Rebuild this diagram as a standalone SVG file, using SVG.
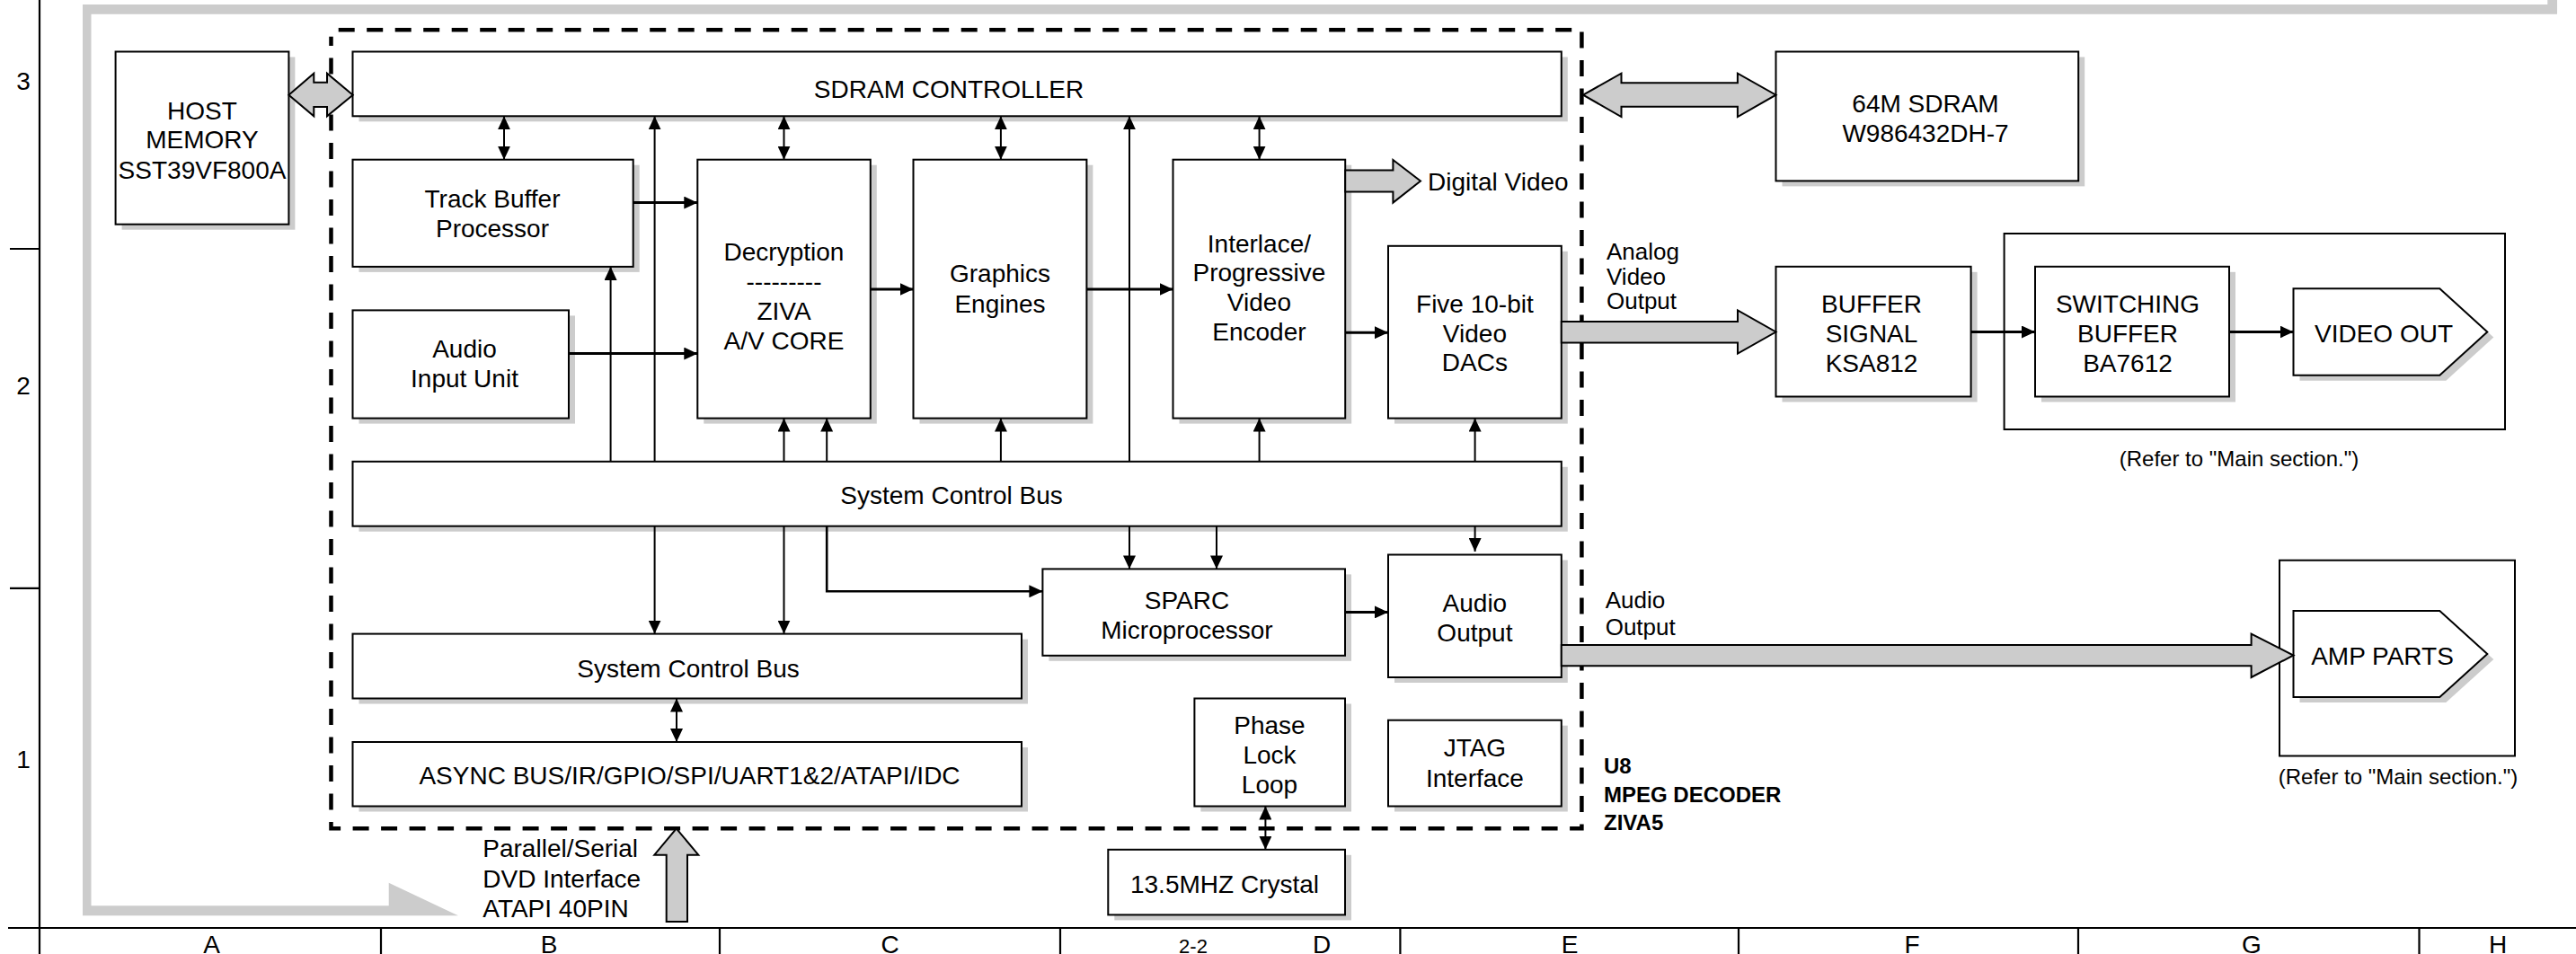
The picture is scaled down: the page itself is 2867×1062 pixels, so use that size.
<svg xmlns="http://www.w3.org/2000/svg" width="2867" height="1062" viewBox="0 0 2867 1062">
<style>
.box{fill:#fff;stroke:#000;stroke-width:2}
.sh{fill:#ccc;stroke:none}
.open{fill:none;stroke:#000;stroke-width:2}
.t{font-family:"Liberation Sans",Arial,sans-serif;font-size:28px;fill:#000}
.c{text-anchor:middle}
.s26{font-size:26px}
.s24{font-size:24px}
.b{font-weight:bold;font-size:24px}
.hollow{fill:#ccc;stroke:#000;stroke-width:2;stroke-linejoin:miter}
.ln{stroke:#000;stroke-width:2;fill:none}
.lnt{stroke:#000;stroke-width:3;fill:none}
.grid{stroke:#000;stroke-width:2.2;fill:none}
.dash{fill:none;stroke:#000;stroke-width:4.5;stroke-dasharray:18 13.5}
</style>
<defs>
<marker id="ah" viewBox="0 0 15 14" markerWidth="15" markerHeight="14" refX="15" refY="7" orient="auto-start-reverse" markerUnits="userSpaceOnUse"><path d="M0,0 L15,7 L0,14 z" fill="#000"/></marker>
</defs>
<rect width="2867" height="1062" fill="#fff"/>

<g id="sheet-border">
<path class="grid" d="M44 0 V1062 M9 1033 H2867 M11 277 H44 M11 654.8 H44 M424 1033 V1062 M801 1033 V1062 M1180 1033 V1062 M1558.4 1033 V1062 M1935 1033 V1062 M2313 1033 V1062 M2692.5 1033 V1062"/>
<text class="t c" x="26" y="99.6">3</text>
<text class="t c" x="26" y="439">2</text>
<text class="t c" x="26" y="854.6">1</text>
<text class="t c" x="235.7" y="1061">A</text>
<text class="t c" x="611" y="1061">B</text>
<text class="t c" x="990.5" y="1061">C</text>
<text class="t c" x="1328" y="1061" style="font-size:22px">2-2</text>
<text class="t c" x="1471" y="1061">D</text>
<text class="t c" x="1747" y="1061">E</text>
<text class="t c" x="2128" y="1061">F</text>
<text class="t c" x="2506" y="1061">G</text>
<text class="t c" x="2780" y="1061">H</text>
</g>

<g id="flow-frame">
<polygon fill="#ccc" points="2835.3,0 2846,0 2846,15.7 101.5,15.7 101.5,1008.3 432.7,1008.3 432.7,982.7 510,1019.3 92,1019.3 92,5 2835.3,5"/>
</g>

<g id="u8-boundary">
<path class="dash" d="M376.7 33.3 H1760.4 V922.3 H368.5 V40.7"/>
<text class="t b" x="1785" y="860.5">U8</text>
<text class="t b" x="1785" y="893.3">MPEG DECODER</text>
<text class="t b" x="1785" y="924.4">ZIVA5</text>
</g>

<g id="host-memory">
<rect class="sh" x="135.6" y="63.5" width="192.8" height="192.2"/>
<rect class="box" x="128.6" y="57.5" width="192.8" height="192.2"/>
<text class="t c" x="225" y="132.6">HOST</text>
<text class="t c" x="225" y="165.3">MEMORY</text>
<text class="t c" x="225" y="199">SST39VF800A</text>
</g>

<g id="sdram-controller">
<rect class="sh" x="399.5" y="63.5" width="1345.3" height="71.8"/>
<rect class="box" x="392.5" y="57.5" width="1345.3" height="71.8"/>
<text class="t c" x="1056" y="108.5">SDRAM CONTROLLER</text>
</g>

<g id="track-buffer">
<rect class="sh" x="399.5" y="183.7" width="312.2" height="119.2"/>
<rect class="box" x="392.5" y="177.7" width="312.2" height="119.2"/>
<text class="t c" x="548" y="230.7">Track Buffer</text>
<text class="t c" x="548" y="263.7">Processor</text>
</g>

<g id="audio-input">
<rect class="sh" x="399.5" y="351.4" width="240.5" height="120.2"/>
<rect class="box" x="392.5" y="345.4" width="240.5" height="120.2"/>
<text class="t c" x="517" y="397.8">Audio</text>
<text class="t c" x="517" y="430.5">Input Unit</text>
</g>

<g id="decryption">
<rect class="sh" x="783.3" y="183.7" width="192.5" height="287.9"/>
<rect class="box" x="776.3" y="177.7" width="192.5" height="287.9"/>
<text class="t c" x="872.5" y="289.5">Decryption</text>
<text class="t c" x="872.5" y="323">---------</text>
<text class="t c" x="872.5" y="356.3">ZIVA</text>
<text class="t c" x="872.5" y="389.4">A/V CORE</text>
</g>

<g id="graphics">
<rect class="sh" x="1023.5" y="183.7" width="192.9" height="287.9"/>
<rect class="box" x="1016.5" y="177.7" width="192.9" height="287.9"/>
<text class="t c" x="1113" y="314.3">Graphics</text>
<text class="t c" x="1113" y="347.6">Engines</text>
</g>

<g id="video-encoder">
<rect class="sh" x="1312.5" y="183.7" width="191.7" height="287.9"/>
<rect class="box" x="1305.5" y="177.7" width="191.7" height="287.9"/>
<text class="t c" x="1401.4" y="280.6">Interlace/</text>
<text class="t c" x="1401.4" y="313.4">Progressive</text>
<text class="t c" x="1401.4" y="346.2">Video</text>
<text class="t c" x="1401.4" y="379">Encoder</text>
</g>

<g id="video-dacs">
<rect class="sh" x="1552" y="279.8" width="192.8" height="191.8"/>
<rect class="box" x="1545" y="273.8" width="192.8" height="191.8"/>
<text class="t c" x="1641.4" y="347.8">Five 10-bit</text>
<text class="t c" x="1641.4" y="380.5">Video</text>
<text class="t c" x="1641.4" y="413.2">DACs</text>
</g>

<g id="system-bus">
<rect class="sh" x="399.5" y="519.8" width="1345.3" height="71.9"/>
<rect class="box" x="392.5" y="513.8" width="1345.3" height="71.9"/>
<text class="t c" x="1059" y="561">System Control Bus</text>
</g>

<g id="system-bus-2">
<rect class="sh" x="399.5" y="711.6" width="744.5" height="71.9"/>
<rect class="box" x="392.5" y="705.6" width="744.5" height="71.9"/>
<text class="t c" x="766" y="753.5">System Control Bus</text>
</g>

<g id="async-bus">
<rect class="sh" x="399.5" y="832" width="744.5" height="71.5"/>
<rect class="box" x="392.5" y="826" width="744.5" height="71.5"/>
<text class="t c" x="767.5" y="872.6">ASYNC BUS/IR/GPIO/SPI/UART1&amp;2/ATAPI/IDC</text>
</g>

<g id="sparc">
<rect class="sh" x="1167.4" y="639.4" width="336.6" height="96.4"/>
<rect class="box" x="1160.4" y="633.4" width="336.6" height="96.4"/>
<text class="t c" x="1321" y="678">SPARC</text>
<text class="t c" x="1321" y="710.5">Microprocessor</text>
</g>

<g id="audio-output">
<rect class="sh" x="1552" y="623.5" width="192.8" height="136.5"/>
<rect class="box" x="1545" y="617.5" width="192.8" height="136.5"/>
<text class="t c" x="1641.4" y="680.7">Audio</text>
<text class="t c" x="1641.4" y="713.5">Output</text>
</g>

<g id="pll">
<rect class="sh" x="1336.4" y="783.5" width="167.6" height="120"/>
<rect class="box" x="1329.4" y="777.5" width="167.6" height="120"/>
<text class="t c" x="1413" y="816.5">Phase</text>
<text class="t c" x="1413" y="850">Lock</text>
<text class="t c" x="1413" y="883">Loop</text>
</g>

<g id="jtag">
<rect class="sh" x="1552" y="807.7" width="192.8" height="95.8"/>
<rect class="box" x="1545" y="801.7" width="192.8" height="95.8"/>
<text class="t c" x="1641.4" y="841.5">JTAG</text>
<text class="t c" x="1641.4" y="876">Interface</text>
</g>

<g id="crystal">
<rect class="sh" x="1240.3" y="951.8" width="263.7" height="72.6"/>
<rect class="box" x="1233.3" y="945.8" width="263.7" height="72.6"/>
<text class="t c" x="1363" y="993.5">13.5MHZ Crystal</text>
</g>

<g id="sdram-64m">
<rect class="sh" x="1983.5" y="63.5" width="336.7" height="143.9"/>
<rect class="box" x="1976.5" y="57.5" width="336.7" height="143.9"/>
<text class="t c" x="2143" y="124.7">64M SDRAM</text>
<text class="t c" x="2143" y="157.7">W986432DH-7</text>
</g>

<g id="buffer-signal">
<rect class="sh" x="1983.5" y="302.8" width="217.1" height="144.7"/>
<rect class="box" x="1976.5" y="296.8" width="217.1" height="144.7"/>
<text class="t c" x="2083" y="347.8">BUFFER</text>
<text class="t c" x="2083" y="380.5">SIGNAL</text>
<text class="t c" x="2083" y="414">KSA812</text>
</g>

<g id="video-section">
<rect class="open" x="2230.6" y="260" width="557.4" height="218"/>
<text class="t c s24" x="2492" y="519">(Refer to "Main section.")</text>
</g>

<g id="switching-buffer">
<rect class="sh" x="2272" y="302.8" width="216" height="144.7"/>
<rect class="box" x="2265" y="296.8" width="216" height="144.7"/>
<text class="t c" x="2368" y="347.8">SWITCHING</text>
<text class="t c" x="2368" y="380.5">BUFFER</text>
<text class="t c" x="2368" y="414">BA7612</text>
</g>

<g id="video-out">
<polygon class="sh" points="2559.5,327.3 2722.3,327.3 2775.3,375.5 2722.3,423.7 2559.5,423.7"/>
<polygon class="box" points="2552.5,321.3 2715.3,321.3 2768.3,369.5 2715.3,417.7 2552.5,417.7"/>
<text class="t c" x="2653" y="380.5">VIDEO OUT</text>
</g>

<g id="amp-section">
<rect class="open" x="2537" y="623.7" width="262" height="217.8"/>
<text class="t c s24" x="2669" y="872.5">(Refer to "Main section.")</text>
</g>

<g id="amp-parts">
<polygon class="sh" points="2559.5,686 2722.3,686 2775.3,734 2722.3,782 2559.5,782"/>
<polygon class="box" points="2552.5,680 2715.3,680 2768.3,728 2715.3,776 2552.5,776"/>
<text class="t c" x="2651.5" y="739.5">AMP PARTS</text>
</g>

<g id="connectors">
<g class="ln" marker-start="url(#ah)" marker-end="url(#ah)">
<path d="M561 129.3 V177.7"/>
<path d="M872.5 129.3 V177.7"/>
<path d="M1113.9 129.3 V177.7"/>
<path d="M1401.6 129.3 V177.7"/>
<path d="M753 777.5 V826"/>
<path d="M1408.4 897.5 V945.8"/>
</g>
<g class="ln" marker-end="url(#ah)">
<path d="M728.6 513.8 V129.3"/>
<path d="M1257 513.8 V129.3"/>
<path d="M679.6 513.8 V296.9"/>
<path d="M872.5 513.8 V465.6"/>
<path d="M920.2 513.8 V465.6"/>
<path d="M1113.9 513.8 V465.6"/>
<path d="M1401.6 513.8 V465.6"/>
<path d="M1641.6 513.8 V465.6"/>
<path d="M728.6 585.7 V705.6"/>
<path d="M872.5 585.7 V705.6"/>
<path d="M1257 585.7 V633.4"/>
<path d="M1354 585.7 V633.4"/>
<path d="M1641.6 585.7 V614"/>
<path d="M920.2 585.7 V658.3 H1160.4" style="stroke-width:2.6"/>
</g>
<g class="lnt" marker-end="url(#ah)">
<path d="M704.7 225.6 H776.3"/>
<path d="M633 393.6 H776.3"/>
<path d="M968.8 322 H1016.5"/>
<path d="M1209.4 322 H1305.5"/>
<path d="M1497.2 370.2 H1545"/>
<path d="M1497 681.4 H1545"/>
<path d="M2193.6 369.5 H2265"/>
<path d="M2481 369.5 H2552.5"/>
</g>
<polygon class="hollow" points="321.4,105.7 349.3,81.7 349.3,91.7 364,91.7 364,81.7 392.7,105.7 364,129.3 364,119 349.3,119 349.3,129.3"/>
<polygon class="hollow" points="1762,105.7 1804.5,81.6 1804.5,92.3 1933.9,92.3 1933.9,81.6 1976.5,105.7 1933.9,130 1933.9,118.8 1804.5,118.8 1804.5,130"/>
<polygon class="hollow" points="1497.2,189.4 1550.4,189.4 1550.4,178 1581,201.5 1550.4,225.6 1550.4,213.5 1497.2,213.5"/>
<polygon class="hollow" points="1737.8,358 1934,358 1934,345.4 1976.5,369.5 1934,393.6 1934,381.5 1737.8,381.5"/>
<polygon class="hollow" points="1737.8,718 2505.6,718 2505.6,705.6 2552.5,729.5 2505.6,754 2505.6,741.2 1737.8,741.2"/>
<polygon class="hollow" points="752.8,922.3 777.3,951.7 765,951.7 765,1026 741.7,1026 741.7,951.7 728.3,951.7"/>
<text class="t" x="1589" y="211.8">Digital Video</text>
<text class="t s26" x="1788" y="289">Analog</text>
<text class="t s26" x="1788" y="316.8">Video</text>
<text class="t s26" x="1788" y="344.4">Output</text>
<text class="t s26" x="1786.7" y="677.3">Audio</text>
<text class="t s26" x="1786.7" y="706.7">Output</text>
<text class="t" x="537.3" y="954.3">Parallel/Serial</text>
<text class="t" x="537.3" y="987.7">DVD Interface</text>
<text class="t" x="537.3" y="1020.7">ATAPI 40PIN</text>
</g>
</svg>
